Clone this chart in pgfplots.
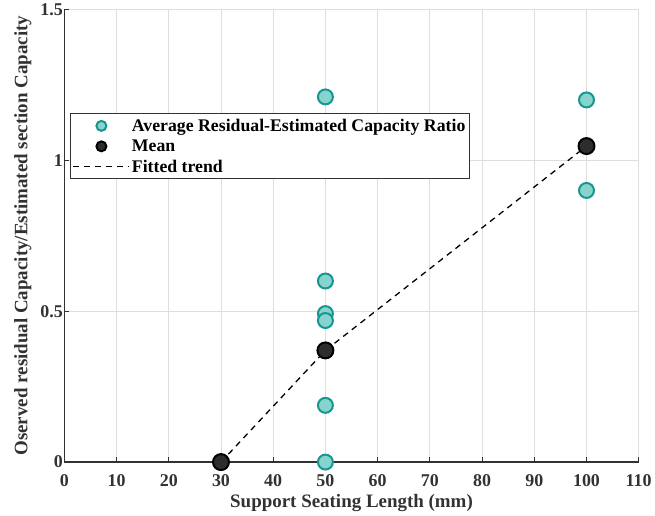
\documentclass[border=0pt]{standalone}
\usepackage{fontspec}
\setmainfont{Liberation Serif}
\usepackage{pgfplots}
\pgfplotsset{compat=1.18}
\definecolor{tealedge}{RGB}{22,150,144}
\definecolor{tealfill}{RGB}{135,212,206}
\definecolor{meanfill}{RGB}{45,45,45}
\definecolor{gridgray}{RGB}{222,222,222}
\definecolor{axisgray}{RGB}{50,50,50}
\pgfplotsset{
  markleg/.style={legend image code/.code={\draw[mark repeat=2,mark phase=2,##1,mark size=5pt] plot coordinates {(0pt,0pt) (28pt,0pt) (56pt,0pt)};}},
  lineleg/.style={legend image code/.code={\draw[##1] (0pt,0pt) -- (56pt,0pt);}},
}
\begin{document}
\begin{tikzpicture}
\begin{axis}[
  scale only axis,
  width=576pt, height=454pt,
  xmin=0, xmax=110, ymin=0, ymax=1.5,
  xtick={0,10,...,110},
  ytick={0,0.5,1,1.5},
  yticklabels={0,0.5,1,1.5},
  axis x line*=bottom, axis y line*=left,
  axis line style={axisgray, line width=1.2pt, -},
  grid=major,
  major grid style={gridgray, line width=0.9pt},
  tick align=inside,
  major tick length=5pt,
  tick style={axisgray, line width=1pt},
  /pgf/number format/assume math mode=true,
  tick label style={font=\fontsize{18}{20}\selectfont\bfseries, axisgray},
  xticklabel style={yshift=-9pt},
  yticklabel style={xshift=2pt},
  label style={font=\fontsize{19}{21}\selectfont\bfseries, axisgray},
  xlabel={Support Seating Length (mm)},
  ylabel={Oserved residual Capacity/Estimated section Capacity},
  xlabel style={yshift=-1pt},
  ylabel style={yshift=2pt},
  legend style={at={(axis cs:1.15,1.155)}, anchor=north west,
    font=\fontsize{17.8}{19}\selectfont\bfseries, draw=axisgray, line width=1pt,
    row sep=3pt, inner xsep=2pt, inner ysep=3pt, cells={anchor=west}},
  legend cell align=left,
]
\addplot[only marks, mark=*, mark size=7.5pt, mark options={draw=tealedge, fill=tealfill, line width=2pt}, markleg]
  coordinates {(30,0) (50,1.21) (50,0.60) (50,0.492) (50,0.469) (50,0.188) (50,0) (100,1.20) (100,0.90)};
\addlegendentry{Average Residual-Estimated Capacity Ratio}
\addplot[only marks, mark=*, mark size=8pt, mark options={draw=black, fill=meanfill, line width=2pt}, markleg]
  coordinates {(30,0) (50,0.37) (100,1.047)};
\addlegendentry{Mean}
\addplot[black, line width=1.3pt, dash pattern=on 6pt off 5pt, lineleg]
  coordinates {(30,0) (50,0.37) (100,1.047)};
\addlegendentry{Fitted trend}
\end{axis}
\path (current axis.outer west) ++(-11pt,0pt);
\end{tikzpicture}
\end{document}
